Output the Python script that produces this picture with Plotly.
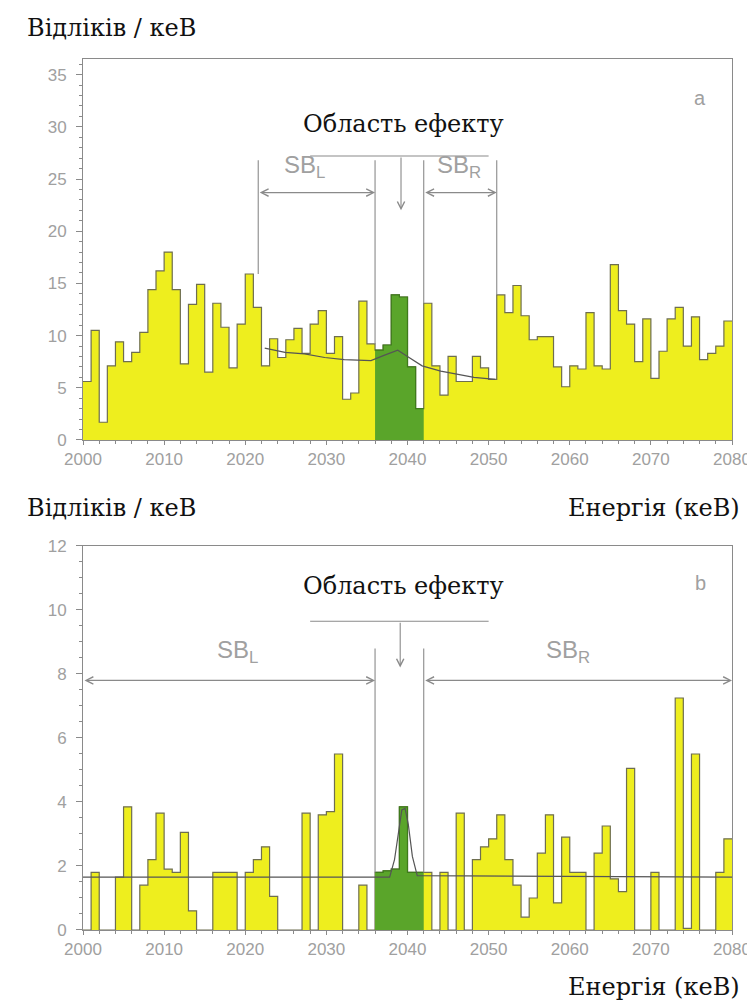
import numpy as np
import plotly.graph_objects as go

# 1 keV bins from 2000 to 2080
bin_lo = list(range(2000, 2080))

# panel a: counts per keV
counts_a = [5.6, 10.5, 1.7, 7.1, 9.4, 7.5, 8.4, 10.3, 14.4, 16.2,
            18.0, 14.4, 7.3, 13.0, 14.9, 6.5, 13.1, 10.8, 6.9, 11.1,
            15.9, 12.7, 7.1, 9.7, 7.9, 9.6, 10.7, 8.3, 11.1, 12.4,
            8.3, 9.9, 3.9, 4.5, 13.3, 9.2, 8.6, 9.1, 13.9, 13.7,
            7.0, 3.0, 13.1, 7.1, 4.3, 8.0, 5.6, 5.6, 8.0, 6.9,
            5.8, 13.9, 12.2, 14.8, 11.9, 9.6, 9.9, 9.9, 7.0, 5.1,
            7.1, 6.8, 12.2, 7.1, 6.8, 16.8, 12.4, 11.1, 7.5, 11.6,
            5.9, 8.5, 11.6, 12.7, 9.0, 11.8, 7.7, 8.3, 9.0, 11.4]

# panel b: counts per keV
counts_b = [0, 1.8, 0, 0, 1.65, 3.85, 0, 1.4, 2.2, 3.65,
            1.9, 1.8, 3.05, 0.6, 0, 0, 1.8, 1.8, 1.8, 0,
            1.8, 2.2, 2.6, 1.05, 0, 0, 0, 3.65, 0, 3.6,
            3.7, 5.5, 0, 0, 1.4, 0, 1.8, 1.85, 1.9, 3.85,
            1.8, 1.8, 1.8, 0, 1.8, 0, 3.65, 0, 2.2, 2.6,
            2.85, 3.6, 2.2, 1.4, 0.4, 1.0, 2.4, 3.6, 0.85, 2.9,
            1.8, 1.8, 0, 2.4, 3.25, 1.6, 1.2, 5.05, 0, 0,
            1.8, 0, 0, 7.25, 0.05, 5.5, 0, 0, 1.8, 2.85]

# effect region (green)
sig_lo, sig_hi = 2036, 2042

# fitted curves
fit_a_x = [2022.4, 2024.9, 2027.3, 2029.8, 2032.2, 2035.5, 2037.1, 2038.8,
           2040.0, 2040.8, 2041.2, 2041.8, 2044.1, 2046.1, 2048.2, 2050.8]
fit_a_y = [8.8, 8.4, 8.25, 7.9, 7.7, 7.6, 8.1, 8.6,
           8.0, 7.6, 7.4, 7.1, 6.6, 6.3, 6.0, 5.8]

fit_b_x = [2000, 2037.8, 2038.4, 2038.9, 2039.3, 2039.7, 2040.1, 2040.6, 2041.2, 2080]
fit_b_y = [1.65, 1.65, 2.2, 3.0, 3.75, 3.8, 3.3, 2.3, 1.7, 1.65]

YELLOW = '#eeee1e'
GREEN = '#5aa52a'
GRAY = '#8a8a8a'
TXT_GRAY = '#a0a0a0'


def step_trace(vals, lo, hi, fill, line, xa, ya):
    i0, i1 = lo - 2000, hi - 2000
    xs = list(range(lo, hi + 1))
    ys = list(vals[i0:i1]) + [vals[i1 - 1]]
    return go.Scatter(x=xs, y=ys, mode='lines', line_shape='hv',
                      fill='tozeroy', fillcolor=fill,
                      line=dict(color=line, width=1.2),
                      xaxis=xa, yaxis=ya, showlegend=False, hoverinfo='skip')


fig = go.Figure()
fig.add_trace(step_trace(counts_a, 2000, 2080, YELLOW, '#6e6e50', 'x', 'y'))
fig.add_trace(step_trace(counts_a, sig_lo, sig_hi, GREEN, '#3f7a1c', 'x', 'y'))
fig.add_trace(go.Scatter(x=fit_a_x, y=fit_a_y, mode='lines', line=dict(color='#555555', width=1.2),
                         xaxis='x', yaxis='y', showlegend=False, hoverinfo='skip'))

fig.add_trace(step_trace(counts_b, 2000, 2080, YELLOW, '#6e6e50', 'x2', 'y2'))
fig.add_trace(step_trace(counts_b, sig_lo, sig_hi, GREEN, '#3f7a1c', 'x2', 'y2'))
fig.add_trace(go.Scatter(x=fit_b_x, y=fit_b_y, mode='lines', line=dict(color='#555555', width=1.2),
                         xaxis='x2', yaxis='y2', showlegend=False, hoverinfo='skip'))

tickfont = dict(family='Liberation Sans', size=17, color=TXT_GRAY)
xax = dict(range=[2000, 2080], dtick=10, tick0=2000, ticks='outside', ticklen=4,
           tickcolor=GRAY, showline=True, linecolor=GRAY, mirror=True, showgrid=False,
           zeroline=False, tickfont=tickfont,
           minor=dict(dtick=2, ticks='outside', ticklen=3, tickcolor=GRAY))
yax = dict(ticks='outside', ticklen=6, tickcolor=GRAY, showline=True, linecolor=GRAY,
           mirror=True, showgrid=False, zeroline=False, tickfont=tickfont,
           ticklabelstandoff=6)

fig.update_layout(
    width=755, height=1003,
    margin=dict(l=75, r=31, t=51, b=81),
    paper_bgcolor='white', plot_bgcolor='white',
    xaxis=dict(xax, domain=[0, 1], anchor='y'),
    yaxis=dict(yax, domain=[0.5626, 1], range=[0, 36.5], dtick=5,
               minor=dict(dtick=1, ticks='outside', ticklen=3, tickcolor=GRAY)),
    xaxis2=dict(xax, domain=[0, 1], anchor='y2'),
    yaxis2=dict(yax, domain=[0, 0.4409], range=[0, 12], dtick=2,
                minor=dict(dtick=0.5, ticks='outside', ticklen=3, tickcolor=GRAY)),
)

serif = dict(family='DejaVu Serif', size=24, color='#111111')
sbfont = dict(family='Liberation Sans', size=24, color=TXT_GRAY)
ann = []
shapes = []

# axis titles
for y in (1.036, 0.484):
    ann.append(dict(text='Відліків / кеВ', xref='paper', yref='paper', x=-0.089, y=y,
                    xanchor='left', yanchor='middle', showarrow=False, font=serif))
for y in (0.484, -0.066):
    ann.append(dict(text='Енергія (кеВ)', xref='paper', yref='paper', x=1.015, y=y,
                    xanchor='right', yanchor='middle', showarrow=False, font=serif))


def arrow(xr, yr, x0, y0, x1, y1, both=False):
    return dict(xref=xr, yref=yr, axref=xr, ayref=yr, x=x1, y=y1, ax=x0, ay=y0,
                text='', showarrow=True, arrowhead=5, arrowsize=1.3, arrowwidth=1.1,
                arrowcolor=GRAY, arrowside='end+start' if both else 'end',
                startarrowhead=5, startarrowsize=1.3)


def vline(xr, yr, x, y0, y1):
    return dict(type='line', xref=xr, yref=yr, x0=x, x1=x, y0=y0, y1=y1,
                line=dict(color=GRAY, width=1.1))


def hline(xr, yr, x0, x1, y):
    return dict(type='line', xref=xr, yref=yr, x0=x0, x1=x1, y0=y, y1=y,
                line=dict(color=GRAY, width=1.1))


# panel a
ann.append(dict(text='Область ефекту', xref='x', yref='y', x=2039.5, y=30.3,
                showarrow=False, font=serif))
shapes.append(hline('x', 'y', 2028, 2050, 27.2))
ann.append(arrow('x', 'y', 2039.2, 27.2, 2039.2, 22.0))
for xv, ybot in [(2021.6, 15.9), (2036, 9.2), (2042, 13.1), (2051, 13.9)]:
    shapes.append(vline('x', 'y', xv, 26.8, ybot))
ann.append(arrow('x', 'y', 2021.6, 23.7, 2036, 23.7, both=True))
ann.append(arrow('x', 'y', 2042, 23.7, 2051, 23.7, both=True))
ann.append(dict(text='SB<sub>L</sub>', xref='x', yref='y', x=2027.3, y=26.2,
                showarrow=False, font=sbfont))
ann.append(dict(text='SB<sub>R</sub>', xref='x', yref='y', x=2046.4, y=26.2,
                showarrow=False, font=sbfont))
ann.append(dict(text='a', xref='x', yref='y', x=2076.1, y=32.8, showarrow=False,
                font=dict(family='Liberation Sans', size=20, color=TXT_GRAY)))

# panel b
ann.append(dict(text='Область ефекту', xref='x2', yref='y2', x=2039.5, y=10.75,
                showarrow=False, font=serif))
shapes.append(hline('x2', 'y2', 2028, 2050, 9.65))
ann.append(arrow('x2', 'y2', 2039.1, 9.65, 2039.1, 8.2))
for xv in (2036, 2042):
    shapes.append(vline('x2', 'y2', xv, 8.8, 1.8))
ann.append(arrow('x2', 'y2', 2000, 7.8, 2036, 7.8, both=True))
ann.append(arrow('x2', 'y2', 2042, 7.8, 2080, 7.8, both=True))
ann.append(dict(text='SB<sub>L</sub>', xref='x2', yref='y2', x=2019.1, y=8.7,
                showarrow=False, font=sbfont))
ann.append(dict(text='SB<sub>R</sub>', xref='x2', yref='y2', x=2059.8, y=8.7,
                showarrow=False, font=sbfont))
ann.append(dict(text='b', xref='x2', yref='y2', x=2076.1, y=10.85, showarrow=False,
                font=dict(family='Liberation Sans', size=20, color=TXT_GRAY)))

fig.update_layout(annotations=ann, shapes=shapes)

fig.write_html("out.html")
